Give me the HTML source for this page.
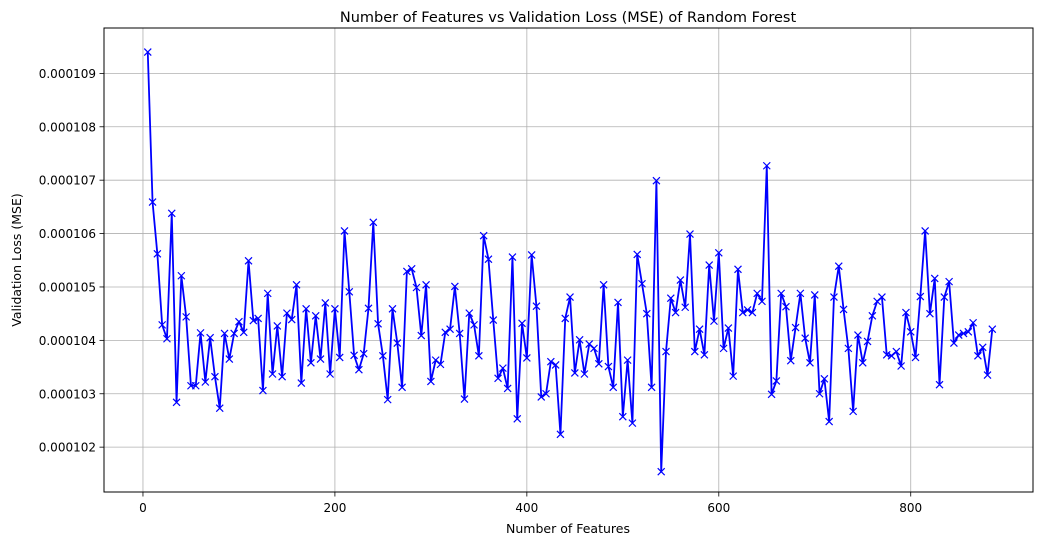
<!DOCTYPE html>
<html><head><meta charset="utf-8"><style>
html,body{margin:0;padding:0;background:#fff;}
svg{display:block;font-family:"DejaVu Sans","Liberation Sans",sans-serif;}
</style></head><body>
<svg id="chart" width="1045" height="545" viewBox="0 0 1045 545" xmlns="http://www.w3.org/2000/svg">
<rect x="0" y="0" width="1045" height="545" fill="#fff"/>
<text x="568" y="22" text-anchor="middle" font-size="14.5" fill="#000">Number of Features vs Validation Loss (MSE) of Random Forest</text>
<text x="568" y="533" text-anchor="middle" font-size="12.5" fill="#000">Number of Features</text>
<text transform="translate(21,260) rotate(-90)" text-anchor="middle" font-size="12.5" fill="#000">Validation Loss (MSE)</text>
<g id="grid"></g>
<g id="series"></g>
<rect x="104" y="28" width="929" height="464" fill="none" stroke="#000" stroke-width="1"/>
<g id="axes"></g>
</svg>
<script>
// Data (loss values in units of 1e-6)
const features = [5,10,15,20,25,30,35,40,45,50,55,60,65,70,75,80,85,90,95,100,105,110,115,120,125,130,135,140,145,150,155,160,165,170,175,180,185,190,195,200,205,210,215,220,225,230,235,240,245,250,255,260,265,270,275,280,285,290,295,300,305,310,315,320,325,330,335,340,345,350,355,360,365,370,375,380,385,390,395,400,405,410,415,420,425,430,435,440,445,450,455,460,465,470,475,480,485,490,495,500,505,510,515,520,525,530,535,540,545,550,555,560,565,570,575,580,585,590,595,600,605,610,615,620,625,630,635,640,645,650,655,660,665,670,675,680,685,690,695,700,705,710,715,720,725,730,735,740,745,750,755,760,765,770,775,780,785,790,795,800,805,810,815,820,825,830,835,840,845,850,855,860,865,870,875,880,885];
const lossMicro = [109.40,106.59,105.62,104.29,104.03,106.38,102.84,105.21,104.44,103.15,103.15,104.14,103.22,104.05,103.32,102.73,104.13,103.65,104.13,104.35,104.15,105.49,104.37,104.41,103.06,104.88,103.37,104.27,103.32,104.51,104.39,105.04,103.20,104.59,103.58,104.46,103.65,104.70,103.37,104.59,103.68,106.05,104.91,103.72,103.45,103.75,104.60,106.21,104.31,103.71,102.89,104.59,103.95,103.12,105.29,105.34,104.99,104.09,105.04,103.23,103.63,103.55,104.15,104.21,105.01,104.13,102.90,104.51,104.29,103.71,105.96,105.52,104.38,103.29,103.48,103.10,105.56,102.53,104.32,103.67,105.60,104.64,102.94,103.00,103.60,103.54,102.24,104.41,104.81,103.39,104.01,103.37,103.93,103.85,103.56,105.04,103.51,103.12,104.71,102.57,103.63,102.45,105.61,105.06,104.50,103.12,106.99,101.54,103.79,104.79,104.52,105.13,104.62,105.99,103.79,104.21,103.73,105.41,104.36,105.64,103.85,104.23,103.33,105.33,104.52,104.57,104.52,104.88,104.73,107.27,102.99,103.24,104.88,104.63,103.62,104.24,104.88,104.04,103.58,104.85,103.00,103.28,102.48,104.81,105.39,104.58,103.85,102.67,104.10,103.58,103.98,104.46,104.73,104.81,103.73,103.71,103.79,103.52,104.52,104.16,103.68,104.82,106.05,104.50,105.16,103.17,104.81,105.10,103.95,104.10,104.13,104.16,104.33,103.71,103.87,103.35,104.21];
const xTicks = [0,200,400,600,800];
const yTicks = [102,103,104,105,106,107,108,109];
const yTickLabels = ["0.000102","0.000103","0.000104","0.000105","0.000106","0.000107","0.000108","0.000109"];

const NS = "http://www.w3.org/2000/svg";
const L=104,R=1033,T=28,B=492;
const xMin=-40.6,xMax=927.4,yMin=101.16,yMax=109.85;
function xs(v){return L+(v-xMin)/(xMax-xMin)*(R-L);}
function ys(v){return B-(v-yMin)/(yMax-yMin)*(B-T);}
function mk(tag,attrs){const e=document.createElementNS(NS,tag);for(const k in attrs)e.setAttribute(k,attrs[k]);return e;}

const grid=document.getElementById('grid');
const axes=document.getElementById('axes');
xTicks.forEach(function(t){
  const x=xs(t);
  const g=mk('line',{x1:x,x2:x,y1:T,y2:B,stroke:'#b0b0b0','stroke-width':0.8});
  
  
  grid.appendChild(g);
  const tk=mk('line',{x1:x,x2:x,y1:B,y2:B+4.5,stroke:'#000','stroke-width':0.8});
  
  
  axes.appendChild(tk);
  const lb=mk('text',{x:x,y:B+20,'text-anchor':'middle','font-size':12,fill:'#000'});
  lb.textContent=String(t);
  
  
  axes.appendChild(lb);
});
yTicks.forEach(function(t,i){
  const y=ys(t);
  const g=mk('line',{x1:L,x2:R,y1:y,y2:y,stroke:'#b0b0b0','stroke-width':0.8});
  
  
  grid.appendChild(g);
  const tk=mk('line',{x1:L-4.5,x2:L,y1:y,y2:y,stroke:'#000','stroke-width':0.8});
  
  
  axes.appendChild(tk);
  const lb=mk('text',{x:L-8,y:y+4.5,'text-anchor':'end','font-size':12,fill:'#000'});
  lb.textContent=yTickLabels[i];
  
  
  axes.appendChild(lb);
});

const series=document.getElementById('series');
let d='';
features.forEach(function(f,i){d+=(i?'L':'M')+xs(f).toFixed(2)+','+ys(lossMicro[i]).toFixed(2);});
const line=mk('path',{d:d,fill:'none',stroke:'#0000ff','stroke-width':1.8,'stroke-linejoin':'round'});


series.appendChild(line);
features.forEach(function(f,i){
  const x=xs(f),y=ys(lossMicro[i]),s=3.5;
  const m=mk('path',{d:'M'+(x-s)+','+(y-s)+'L'+(x+s)+','+(y+s)+'M'+(x-s)+','+(y+s)+'L'+(x+s)+','+(y-s),stroke:'#0000ff','stroke-width':1.2,fill:'none'});
  
  
  series.appendChild(m);
});
</script>
</body></html>
